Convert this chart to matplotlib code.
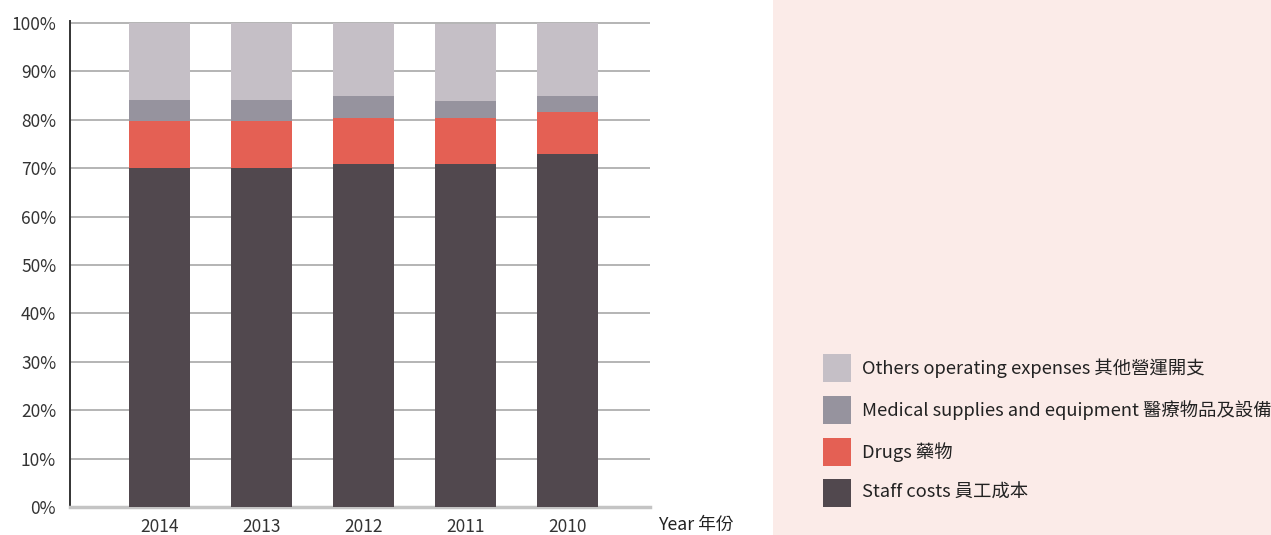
import matplotlib.pyplot as plt
from matplotlib.patches import Rectangle

plt.rcParams['font.family'] = ['Noto Sans CJK TC', 'DejaVu Sans']

years = ['2014', '2013', '2012', '2011', '2010']
staff = [70.0, 70.0, 70.9, 70.9, 72.9]
drugs = [9.8, 9.8, 9.5, 9.5, 8.7]
medical = [4.3, 4.3, 4.5, 3.5, 3.3]
others = [15.9, 15.9, 15.1, 15.9, 15.1]

labels = ['Staff costs 員工成本', 'Drugs 藥物',
          'Medical supplies and equipment 醫療物品及設備',
          'Others operating expenses 其他營運開支']
colors = ['#51484e', '#e46054', '#96939e', '#c5bfc6']

W, H = 1271, 535
fig = plt.figure(figsize=(W / 100, H / 100), dpi=100)

# pink legend panel on the right
fig.patches.append(Rectangle((773 / W, 0), 1 - 773 / W, 1, transform=fig.transFigure,
                             facecolor='#fbebe8', edgecolor='none', zorder=0))

ax = fig.add_axes([70 / W, 28 / H, 580 / W, 486 / H])
x = list(range(len(years)))
bottom = [0] * len(years)
for vals, c in zip([staff, drugs, medical, others], colors):
    ax.bar(x, vals, width=0.6, bottom=bottom, color=c, zorder=3)
    bottom = [b + v for b, v in zip(bottom, vals)]

ax.set_xlim(-0.877, 4.81)
ax.set_ylim(0, 100.4)
ax.set_yticks(range(0, 101, 10))
ax.set_yticklabels([f'{v}%' for v in range(0, 101, 10)])
ax.set_xticks(x)
ax.set_xticklabels(years)
ax.tick_params(length=0, labelsize=12.5, colors='#333333')
ax.tick_params(axis='y', pad=10)
ax.tick_params(axis='x', pad=8)
ax.yaxis.grid(True, color='#a8a8a8', linewidth=1.2, zorder=1)
ax.set_axisbelow(True)
for s in ['top', 'right']:
    ax.spines[s].set_visible(False)
ax.spines['left'].set_color('#333333')
ax.spines['left'].set_linewidth(1.4)
ax.spines['bottom'].set_color('#c4c4c4')
ax.spines['bottom'].set_linewidth(2.5)

fig.text(658 / W, 1 - 525 / H, 'Year 年份', fontsize=12.8, color='#222222',
         va='center', ha='left')

# legend drawn by hand: squares and labels, top row is the top of the stack
row_y = [493, 452, 410, 368]
for lab, c, yc in zip(labels, colors, row_y):
    fig.patches.append(Rectangle((823 / W, 1 - (yc + 14) / H), 28 / W, 28 / H,
                                 transform=fig.transFigure, facecolor=c,
                                 edgecolor='none', zorder=2))
    fig.text(862 / W, 1 - yc / H, lab, fontsize=13.2, color='#222222',
             va='center', ha='left')

fig.savefig('out.png', dpi=100)
